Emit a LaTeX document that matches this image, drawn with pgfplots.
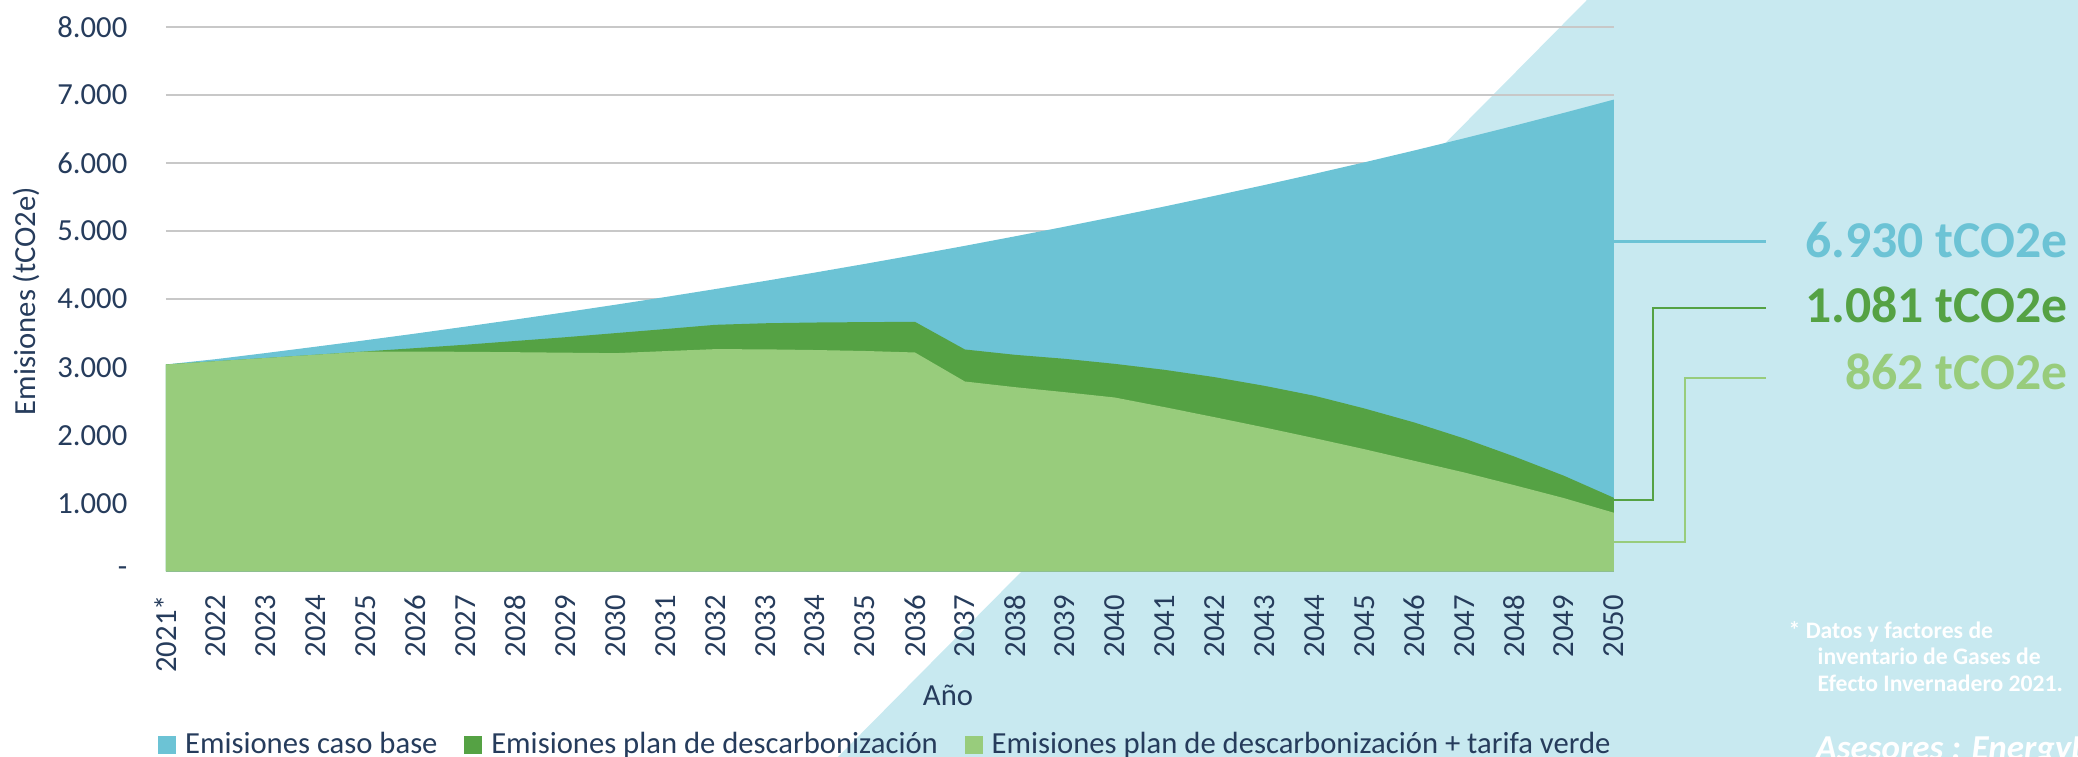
\documentclass[border=0pt]{standalone}
\usepackage{fontspec}
\setmainfont{Carlito}
\usepackage{pgfplots}
\usepackage{pgfplotstable}
\pgfplotsset{compat=1.18}

\definecolor{cbase}{HTML}{6CC3D5}
\definecolor{cplan}{HTML}{55A244}
\definecolor{cverde}{HTML}{98CC7C}
\definecolor{cband}{HTML}{C8E9F0}
\definecolor{navy}{HTML}{263C5C}
\definecolor{gridgray}{HTML}{C8C8C8}

\pgfplotstableread{
year base plan verde
2021 3040 3040 3040
2022 3118 3088 3088
2023 3208 3135 3135
2024 3301 3183 3183
2025 3396 3232 3230
2026 3494 3280 3229
2027 3596 3330 3226
2028 3700 3385 3220
2029 3807 3440 3213
2030 3917 3500 3206
2031 4030 3560 3236
2032 4147 3622 3265
2033 4267 3645 3262
2034 4390 3656 3252
2035 4517 3662 3238
2036 4648 3666 3216
2037 4782 3260 2790
2038 4921 3182 2707
2039 5063 3123 2633
2040 5210 3049 2555
2041 5360 2961 2413
2042 5516 2854 2266
2043 5675 2726 2115
2044 5839 2580 1958
2045 6008 2394 1796
2046 6182 2188 1625
2047 6361 1953 1454
2048 6545 1689 1268
2049 6735 1405 1077
2050 6930 1081 862
}\emisiones

\begin{document}
\begin{tikzpicture}[x=0.3pt,y=0.3pt]
\useasboundingbox (0,0) rectangle (2078,757);
\clip (0,0) rectangle (2078,757);
% decorative band
\fill[cband] (1587,757) -- (2078,757) -- (2078,0) -- (838,0) -- cycle;

\begin{axis}[
  at={(49.8pt,55.65pt)}, anchor=south west,
  scale only axis, width=434.4pt, height=163.44pt,
  xmin=2021, xmax=2050, ymin=0, ymax=8000,
  axis line style={draw=none},
  major tick length=0pt,
  tick style={draw=none},
  ymajorgrids,
  grid style={color=gridgray, line width=0.5pt},
  ytick={0,1000,2000,3000,4000,5000,6000,7000,8000},
  yticklabels={-,1.000,2.000,3.000,4.000,5.000,6.000,7.000,8.000},
  xtick={2021,2022,2023,2024,2025,2026,2027,2028,2029,2030,2031,2032,2033,2034,2035,2036,2037,2038,2039,2040,2041,2042,2043,2044,2045,2046,2047,2048,2049,2050},
  xticklabels={2021*,2022,2023,2024,2025,2026,2027,2028,2029,2030,2031,2032,2033,2034,2035,2036,2037,2038,2039,2040,2041,2042,2043,2044,2045,2046,2047,2048,2049,2050},
  tick label style={font=\fontsize{9.2}{11}\selectfont, text=navy},
  yticklabel style={anchor=east, inner sep=0pt},
  yticklabel shift=11.4pt,
  xticklabel style={rotate=90, anchor=east, inner sep=0pt},
  xticklabel shift=6.9pt,
  /pgf/number format/assume math mode=true,
  legend columns=3,
  legend cell align=left,
  legend style={at={(-0.0055,-0.3185)}, anchor=west, draw=none, fill=none,
    inner sep=0pt, outer sep=0pt,
    font=\fontsize{9.2}{11}\selectfont, text=navy,
    nodes={inner sep=0pt},
    /tikz/every odd column/.append style={column sep=2.7pt},
    /tikz/every even column/.append style={column sep=8pt}},
  legend image code/.code={\fill[#1] (0pt,-2.7pt) rectangle (5.4pt,2.7pt);},
]
\addplot[fill=cbase, draw=none] table[x=year,y=base]{\emisiones} \closedcycle;
\addlegendentry{Emisiones caso base}
\addplot[fill=cplan, draw=none] table[x=year,y=plan]{\emisiones} \closedcycle;
\addlegendentry{Emisiones plan de descarbonización}
\addplot[fill=cverde, draw=none] table[x=year,y=verde]{\emisiones} \closedcycle;
\addlegendentry{Emisiones plan de descarbonización + tarifa verde}
\end{axis}

% axis titles
\node[rotate=90, font=\fontsize{9.2}{11}\selectfont, text=navy] at (26,456) {Emisiones (tCO2e)};
\node[anchor=base, font=\fontsize{9.2}{11}\selectfont, text=navy] at (948,51) {Año};

% leader lines
\draw[cbase, line width=0.8pt] (1614,515.5) -- (1766,515.5);
\draw[cplan, line width=0.8pt] (1614,257) -- (1653,257) -- (1653,449) -- (1766,449);
\draw[cverde, line width=0.8pt] (1614,215) -- (1685,215) -- (1685,379) -- (1766,379);

% end values
\node[anchor=base east, inner sep=0pt, text=cbase, font=\fontsize{15.5}{19}\selectfont\bfseries] at (2068,499) {6.930 tCO2e};
\node[anchor=base east, inner sep=0pt, text=cplan, font=\fontsize{15.5}{19}\selectfont\bfseries] at (2068,434) {1.081 tCO2e};
\node[anchor=base east, inner sep=0pt, text=cverde, font=\fontsize{15.5}{19}\selectfont\bfseries] at (2068,367) {862 tCO2e};

% footnote
\node[anchor=base west, inner sep=0pt, text=white, font=\fontsize{7.1}{8.5}\selectfont\bfseries] at (1788,118) {* Datos y factores de};
\node[anchor=base west, inner sep=0pt, text=white, font=\fontsize{7.1}{8.5}\selectfont\bfseries] at (1817,92) {inventario de Gases de};
\node[anchor=base west, inner sep=0pt, text=white, font=\fontsize{7.1}{8.5}\selectfont\bfseries] at (1817,65) {Efecto Invernadero 2021.};
\node[anchor=base west, inner sep=0pt, text=white, font=\fontsize{10.5}{12}\selectfont\bfseries\itshape] at (1815,-3) {Asesores : EnergyLab};
\end{tikzpicture}
\end{document}
